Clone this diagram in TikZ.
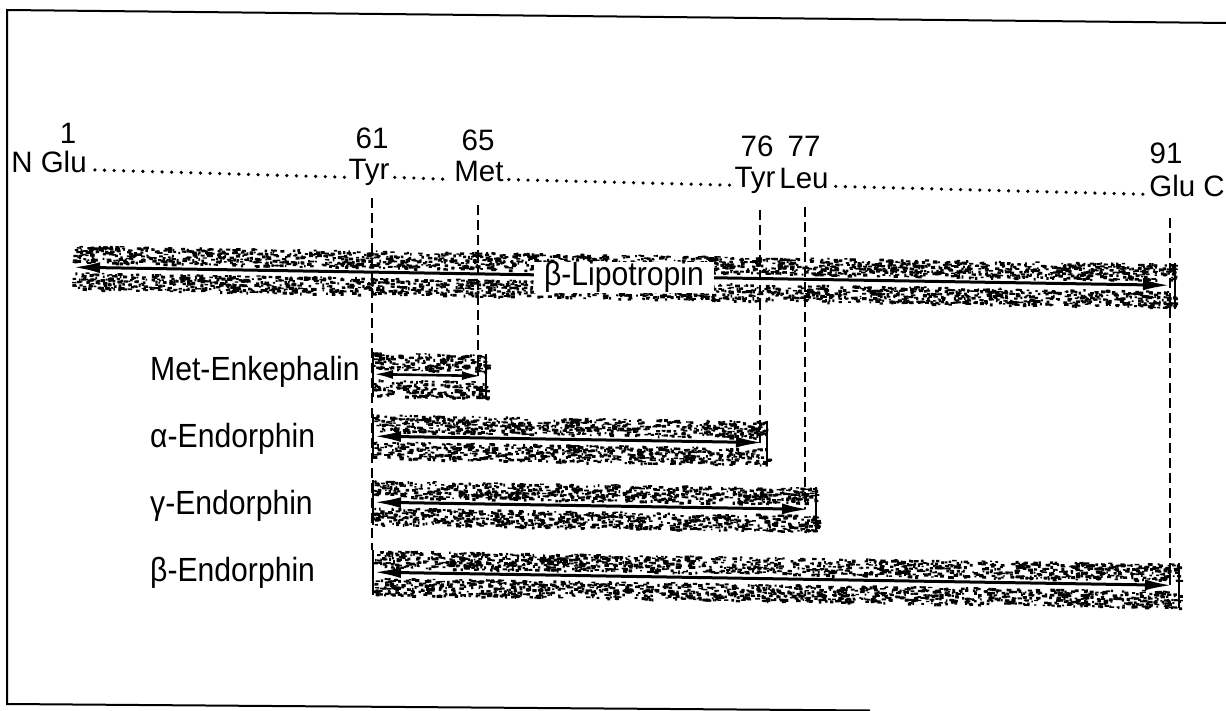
\documentclass[tikz,border=0pt]{standalone}
\usepackage{fontspec}
\setmainfont{Liberation Sans}
\newfontfamily\labfont[FakeStretch=0.9]{Liberation Sans}
\newfontfamily\topfont{Liberation Sans}
\usetikzlibrary{arrows.meta}
\newcommand{\speck}[4]{%
  \pgfmathtruncatemacro{\nspk}{((#3-#1)/10)*(#4-#2)}%
  \foreach \k in {1,...,\nspk}{%
    \fill ({#1+rnd*(#3-#1)},{-(#2+rnd*(#4-#2))}) rectangle ++({1.5+3.2*rnd},{-(1.3+1.8*rnd)});
  }%
}
\begin{document}
\begin{tikzpicture}[x=1pt,y=1pt,
  lab/.style={inner sep=0pt, font=\labfont\fontsize{33.5}{38}\selectfont, anchor=base west},
  toplab/.style={inner sep=0pt, font=\topfont\fontsize{29.5}{34}\selectfont, anchor=base},
  dotrow/.style={line width=3.6pt, line cap=round, dash pattern=on 0pt off 9.6pt},
  guide/.style={line width=1.8pt, dash pattern=on 10pt off 5pt},
  span/.style={line width=3pt, {Latex[length=27pt,width=11pt]}-{Latex[length=27pt,width=11pt]}},
  spanshort/.style={line width=2.6pt, {Latex[length=19pt,width=9pt]}-{Latex[length=19pt,width=9pt]}},
  endline/.style={line width=1.8pt},
  frame/.style={line width=2pt}]
\useasboundingbox (0,0) rectangle (1226,-711);
\clip (0,0) rectangle (1226,-711);
\draw[frame] (1226,-23) -- (7,-10) -- (7,-704) -- (870,-710.5);
\pgfmathsetseed{4711}
\begin{scope}[yslant=-0.0165]
  % ---- residue row ----
  \node[toplab] (nglu) at (49,-171.5) {N Glu};
  \node[toplab] (n1)   at (68,-141.9) {1};
  \node[toplab] (tyrA) at (369,-173.7) {Tyr};
  \node[toplab] (n61)  at (372,-142.7) {61};
  \node[toplab] (met)  at (479,-174.1) {Met};
  \node[toplab] (n65)  at (478,-142.9) {65};
  \node[toplab] (tyrB) at (755,-175.3) {Tyr};
  \node[toplab] (n76)  at (757,-143.6) {76};
  \node[toplab] (leu)  at (804,-175.5) {Leu};
  \node[toplab] (n77)  at (804,-143.7) {77};
  \node[toplab] (gluc) at (1187,-177.3) {Glu C};
  \node[toplab] (n91)  at (1166,-144.6) {91};
  \draw[dotrow] ([shift={(8,2.5)}]nglu.base east) -- ([shift={(-3,2.5)}]tyrA.base west);
  \draw[dotrow] ([shift={(5,2.5)}]tyrA.base east) -- ([shift={(-3,2.5)}]met.base west);
  \draw[dotrow] ([shift={(5,2.5)}]met.base east) -- ([shift={(-3,2.5)}]tyrB.base west);
  \draw[dotrow] ([shift={(7,2.5)}]leu.base east) -- ([shift={(-4,2.5)}]gluc.base west);
  % ---- stippled bands ----
  \speck{72}{244}{1176}{261}\speck{72}{271}{1176}{288}
  \speck{373}{346}{487}{363}\speck{373}{373}{487}{390}
  \speck{373}{408}{768}{425}\speck{373}{435}{768}{452}
  \speck{373}{474}{817}{491}\speck{373}{501}{817}{518}
  \speck{373}{544}{1180}{561}\speck{373}{571}{1180}{588}
  % ---- coordinates ----
  \coordinate (lipoL) at (73,-266);  \coordinate (lipoR) at (1170,-266);
  \coordinate (menL) at (374,-368);  \coordinate (menR) at (481,-368);
  \coordinate (aL) at (374,-430);    \coordinate (aR) at (763,-430);
  \coordinate (gL) at (374,-496);    \coordinate (gR) at (809,-496);
  \coordinate (bL) at (374,-566);    \coordinate (bR) at (1172,-566);
  \coordinate (g61t) at (372,-192);  \coordinate (g61b) at (372,-544);
  \coordinate (g65t) at (478,-197);  \coordinate (g65b) at (478,-368);
  \coordinate (g76t) at (760,-197);  \coordinate (g76b) at (760,-430);
  \coordinate (g77t) at (805,-194);  \coordinate (g77b) at (805,-496);
  \coordinate (g91t) at (1170,-199); \coordinate (g91b) at (1170,-566);
  % ---- arrows ----
  \draw[span] (lipoL) -- (lipoR);
  \node[anchor=base, fill=white, inner xsep=10pt, inner ysep=0pt,
        font=\labfont\fontsize{33.5}{38}\selectfont] (lipo) at (624,-275.5) {β-Lipotropin};
  \draw[spanshort] (menL) -- (menR);
  \draw[span] (aL) -- (aR);
  \draw[span] (gL) -- (gR);
  \draw[span] (bL) -- (bR);
  % ---- band ends ----
  \draw[endline] (1175,-244) -- (1175,-290);
  \draw[endline] (373,-346) -- (373,-391);
  \draw[endline] (486,-346) -- (486,-391);
  \draw[endline] (373,-408) -- (373,-453);
  \draw[endline] (767,-408) -- (767,-453);
  \draw[endline] (373,-474) -- (373,-519);
  \draw[endline] (816,-474) -- (816,-519);
  \draw[endline] (373,-544) -- (373,-589);
  \draw[endline] (1179,-544) -- (1179,-589);
  % ---- guide lines ----
  \draw[guide] (g61t) -- (g61b);
  \draw[guide] (g65t) -- (g65b);
  \draw[guide] (g76t) -- (g76b);
  \draw[guide] (g77t) -- (g77b);
  \draw[guide] (g91t) -- (g91b);
  % ---- peptide labels ----
  \node[lab] (metenk) at (150,-378.5) {Met-Enkephalin};
  \node[lab] (aend)   at (150,-445)   {α-Endorphin};
  \node[lab] (gend)   at (150,-512)   {γ-Endorphin};
  \node[lab] (bend)   at (150,-579)   {β-Endorphin};
\end{scope}
\end{tikzpicture}
\end{document}
